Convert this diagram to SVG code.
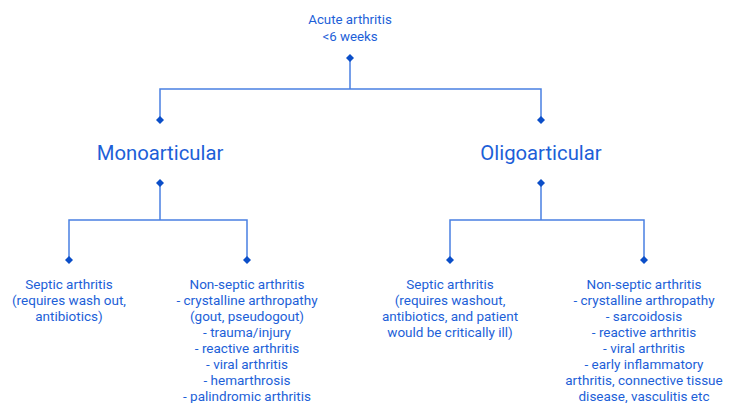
<svg xmlns="http://www.w3.org/2000/svg" width="739" height="403" viewBox="0 0 739 403">
<style>
text{font-family:Roboto,"Liberation Sans",sans-serif;fill:#1d5fd8;text-anchor:middle}
.s{font-size:13.3px}
.b{font-size:13.5px}
.h{font-size:20.3px}
.ln{stroke:#4a80e2;stroke-width:1.5;fill:none}
.d{fill:#0b4ec8}
</style>
<defs><path id="dm" d="M0,-4L4,0L0,4L-4,0Z"/></defs>
<rect width="739" height="403" fill="#fff"/>
<g id="connectors">
<path class="ln" d="M350,58V89M160,120V89H541V120"/>
<path class="ln" d="M160,183V220M69,260V220H247V260"/>
<path class="ln" d="M541,183V220M450,260V220H644V260"/>
<g class="d">
<use href="#dm" x="350" y="58"/><use href="#dm" x="160" y="120"/><use href="#dm" x="541" y="120"/>
<use href="#dm" x="160" y="183"/><use href="#dm" x="541" y="183"/>
<use href="#dm" x="69" y="260"/><use href="#dm" x="247" y="260"/><use href="#dm" x="450" y="260"/><use href="#dm" x="644" y="260"/>
</g>
</g>
<g id="root"><text class="s" x="350" y="24">Acute arthritis</text><text class="s" x="350" y="41">&lt;6 weeks</text></g>
<g id="mono"><text class="h" x="160" y="160">Monoarticular</text></g>
<g id="oligo"><text class="h" x="541" y="160">Oligoarticular</text></g>
<g id="mono-septic">
<text class="b" x="69" y="289">Septic arthritis</text>
<text class="b" x="69" y="305">(requires wash out,</text>
<text class="b" x="69" y="321">antibiotics)</text>
</g>
<g id="mono-nonseptic">
<text class="b" x="247" y="289">Non-septic arthritis</text>
<text class="b" x="247" y="305">- crystalline arthropathy</text>
<text class="b" x="247" y="321">(gout, pseudogout)</text>
<text class="b" x="247" y="337">- trauma/injury</text>
<text class="b" x="247" y="353">- reactive arthritis</text>
<text class="b" x="247" y="369">- viral arthritis</text>
<text class="b" x="247" y="385">- hemarthrosis</text>
<text class="b" x="247" y="401">- palindromic arthritis</text>
</g>
<g id="oligo-septic">
<text class="b" x="450" y="289">Septic arthritis</text>
<text class="b" x="450" y="305">(requires washout,</text>
<text class="b" x="450" y="321">antibiotics, and patient</text>
<text class="b" x="450" y="337">would be critically ill)</text>
</g>
<g id="oligo-nonseptic">
<text class="b" x="644" y="289">Non-septic arthritis</text>
<text class="b" x="644" y="305">- crystalline arthropathy</text>
<text class="b" x="644" y="321">- sarcoidosis</text>
<text class="b" x="644" y="337">- reactive arthritis</text>
<text class="b" x="644" y="353">- viral arthritis</text>
<text class="b" x="644" y="369">- early inflammatory</text>
<text class="b" x="644" y="385">arthritis, connective tissue</text>
<text class="b" x="644" y="401">disease, vasculitis etc</text>
</g>
</svg>
